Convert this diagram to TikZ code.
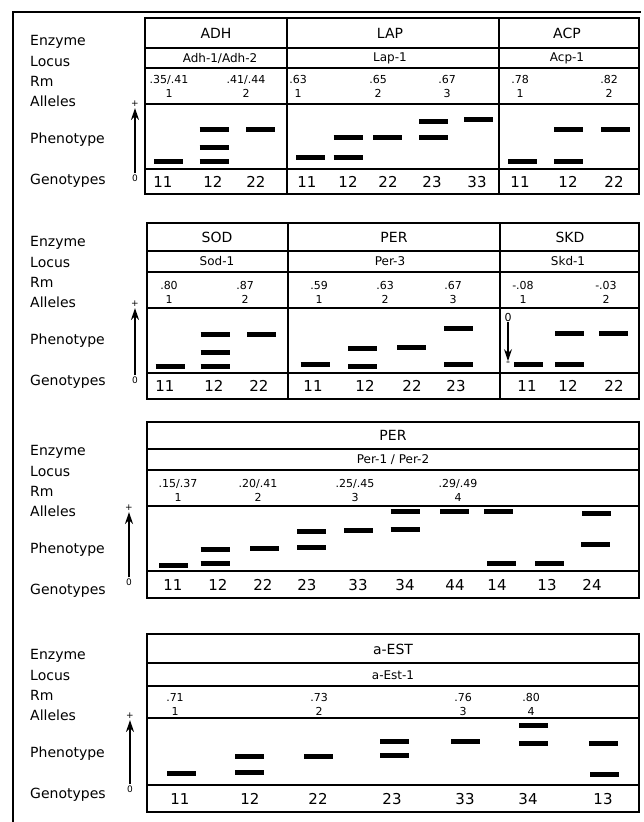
\documentclass[tikz,border=0pt]{standalone}
\usepackage{fontspec}
\setmainfont{DejaVu Sans}
\usetikzlibrary{arrows.meta}
\usetikzlibrary{positioning}
\tikzstyle{frame}=[line width=2pt]
\tikzstyle{rule}=[line width=1.1pt]
\tikzstyle{band}=[line width=5pt]
\tikzstyle{rowname}=[anchor=west, inner sep=0pt, font=\fontsize{14}{16}\selectfont]
\tikzstyle{enz}=[inner sep=0pt, font=\fontsize{14}{16}\selectfont]
\tikzstyle{loc}=[inner sep=0pt, font=\fontsize{12}{14}\selectfont]
\tikzstyle{rm}=[inner sep=0pt, align=center, font=\fontsize{11}{14}\selectfont]
\tikzstyle{geno}=[inner sep=0pt, font=\fontsize{15}{17}\selectfont]
\tikzstyle{sign}=[inner sep=1pt, font=\fontsize{9}{10}\selectfont]
\tikzstyle{myarrow}=[-{Stealth[length=12pt,width=8pt]}, line width=1.2pt]

\begin{document}
\begin{tikzpicture}[x=1pt, y=-1pt]
    \useasboundingbox (0,0) rectangle (643,822);
    \draw[line width=1.5pt] (13,822) -- (13,12) -- (641,12);

    % row names and migration arrows
    \foreach \t/\ly/\ax/\py/\zy in {1/42/135/104/178, 2/243/135/304/380, 3/452/129/508/582, 4/656/130/716/789} {
        \node[rowname] (enzyme\t) at (30,\ly) {Enzyme};
        \node[rowname] (locus\t) at (30,\ly+19) {Locus};
        \node[rowname] (rm\t) at (30,\ly+39) {Rm};
        \node[rowname] (alleles\t) at (30,\ly+59) {Alleles};
        \node[rowname] (pheno\t) at (30,\ly+98) {Phenotype};
        \node[rowname] (geno\t) at (30,\ly+139) {Genotypes};
        \node[sign] (plus\t) at (\ax,\py) {+};
        \node[sign] (zero\t) at (\ax,\zy) {0};
        \draw[myarrow] (zero\t) -- (plus\t);
    }

    % ADH, LAP, ACP
    \draw[frame] (145,18) rectangle (639,194);
    \foreach \y in {48,68,104,169} \draw[rule] (145,\y) -- (639,\y);
    \draw[frame] (287,18) -- (287,194) (499,18) -- (499,194);

    \node[enz] (adh) at (216,33) {ADH};
    \node[loc] (adhloc) at (220,58) {Adh-1/Adh-2};
    \node[rm] (adh1) at (169,86.5) {.35/.41\\1};
    \node[rm] (adh2) at (246,86.5) {.41/.44\\2};
    \foreach \x/\y in {168.5/161, 214/129, 214/147, 214/161, 260.5/129} \draw[band] (\x-14.5,\y) -- (\x+14.5,\y);
    \foreach \x/\g in {163/11, 213/12, 256/22} \node[geno] (adh-\g) at (\x,182) {\g};

    \node[enz] (lap) at (390,33) {LAP};
    \node[loc] (laploc) at (390,58) {Lap-1};
    \node[rm] (lap1) at (298,86.5) {.63\\1};
    \node[rm] (lap2) at (378,86.5) {.65\\2};
    \node[rm] (lap3) at (447,86.5) {.67\\3};
    \foreach \x/\y in {310.5/157, 348/137, 348/157, 387.5/137, 433.5/121, 433.5/137, 478.5/119} \draw[band] (\x-14.5,\y) -- (\x+14.5,\y);
    \foreach \x/\g in {307/11, 348/12, 388/22, 432/23, 477/33} \node[geno] (lap-\g) at (\x,182) {\g};

    \node[enz] (acp) at (567,33) {ACP};
    \node[loc] (acploc) at (567,58) {Acp-1};
    \node[rm] (acp1) at (520,86.5) {.78\\1};
    \node[rm] (acp2) at (609,86.5) {.82\\2};
    \foreach \x/\y in {522.5/161, 568.5/161, 568.5/129, 615.5/129} \draw[band] (\x-14.5,\y) -- (\x+14.5,\y);
    \foreach \x/\g in {520/11, 568/12, 614/22} \node[geno] (acp-\g) at (\x,182) {\g};

    % SOD, PER, SKD
    \draw[frame] (147,223) rectangle (639,399);
    \foreach \y in {251,272,308,373} \draw[rule] (147,\y) -- (639,\y);
    \draw[frame] (288,223) -- (288,399) (500,223) -- (500,399);

    \node[enz] (sod) at (217,237) {SOD};
    \node[loc] (sodloc) at (217,261.5) {Sod-1};
    \node[rm] (sod1) at (169,292.5) {.80\\1};
    \node[rm] (sod2) at (245,292.5) {.87\\2};
    \foreach \x/\y in {170/366, 215/334, 215/352, 215/366, 261.5/334} \draw[band] (\x-14.5,\y) -- (\x+14.5,\y);
    \foreach \x/\g in {165/11, 214/12, 259/22} \node[geno] (sod-\g) at (\x,386) {\g};

    \node[enz] (perb) at (394,237) {PER};
    \node[loc] (perbloc) at (390,261.5) {Per-3};
    \node[rm] (perb1) at (319,292.5) {.59\\1};
    \node[rm] (perb2) at (385,292.5) {.63\\2};
    \node[rm] (perb3) at (453,292.5) {.67\\3};
    \foreach \x/\y in {315/364, 362.5/348, 362.5/366, 411.5/347, 458.5/328, 458.5/364} \draw[band] (\x-14.5,\y) -- (\x+14.5,\y);
    \foreach \x/\g in {313/11, 365/12, 412/22, 456/23} \node[geno] (perb-\g) at (\x,386) {\g};

    \node[enz] (skd) at (570,237) {SKD};
    \node[loc] (skdloc) at (568,261.5) {Skd-1};
    \node[rm] (skd1) at (523,292.5) {-.08\\1};
    \node[rm] (skd2) at (606,292.5) {-.03\\2};
    \node[sign, font=\fontsize{11}{12}\selectfont] (skdzero) at (508,317) {0};
    \node[sign, font=\fontsize{11}{12}\selectfont] (skdminus) at (508,364) {-};
    \draw[myarrow] (skdzero) -- (skdminus);
    \foreach \x/\y in {528.5/364, 569.5/364, 569.5/333, 613.5/333} \draw[band] (\x-14.5,\y) -- (\x+14.5,\y);
    \foreach \x/\g in {527/11, 568/12, 614/22} \node[geno] (skd-\g) at (\x,386) {\g};

    % PER (Per-1/Per-2)
    \draw[frame] (147,422) rectangle (639,598);
    \foreach \y in {449,470,506,571} \draw[rule] (147,\y) -- (639,\y);
    \node[enz] (pera) at (393,435) {PER};
    \node[loc] (peraloc) at (393,460) {Per-1 / Per-2};
    \node[rm] (pera1) at (178,490.5) {.15/.37\\1};
    \node[rm] (pera2) at (258,490.5) {.20/.41\\2};
    \node[rm] (pera3) at (355,490.5) {.25/.45\\3};
    \node[rm] (pera4) at (458,490.5) {.29/.49\\4};
    \foreach \x/\y in {173.5/565, 215/549, 215/563, 264.5/548, 311.5/531, 311.5/547, 358.5/530, 405/511, 405/529, 454.5/511, 498.5/511, 501.5/563, 549.5/563, 596.5/513, 595.5/544} \draw[band] (\x-14.5,\y) -- (\x+14.5,\y);
    \foreach \x/\g in {173/11, 218/12, 263/22, 307/23, 358/33, 405/34, 455/44, 497/14, 547/13, 592/24} \node[geno] (pera-\g) at (\x,585) {\g};

    % a-EST
    \draw[frame] (147,634) rectangle (639,812);
    \foreach \y in {663,686,718,785} \draw[rule] (147,\y) -- (639,\y);
    \node[enz] (est) at (393,649) {a-EST};
    \node[loc] (estloc) at (393,675) {a-Est-1};
    \node[rm] (est1) at (175,704) {.71\\1};
    \node[rm] (est2) at (319,704) {.73\\2};
    \node[rm] (est3) at (463,704) {.76\\3};
    \node[rm] (est4) at (531,704) {.80\\4};
    \foreach \x/\y in {181.5/773, 249.5/756, 249.5/772, 318.5/756, 394.5/741, 394.5/755, 465.5/741, 533.5/725, 533.5/743, 603.5/743, 604.5/774} \draw[band] (\x-14.5,\y) -- (\x+14.5,\y);
    \foreach \x/\g in {180/11, 250/12, 318/22, 392/23, 465/33, 528/34, 603/13} \node[geno] (est-\g) at (\x,799) {\g};
\end{tikzpicture}
\end{document}
